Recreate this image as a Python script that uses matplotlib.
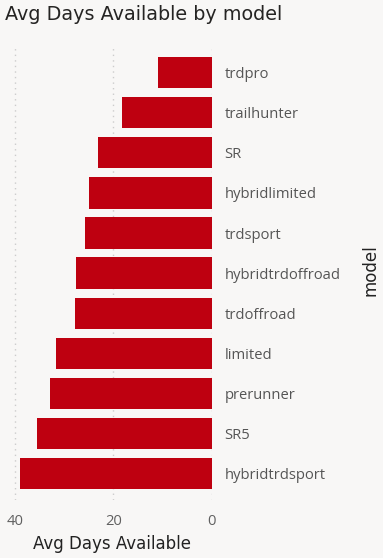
import matplotlib.pyplot as plt

# datos del grafico (de arriba hacia abajo)
modelos = ['trdpro', 'trailhunter', 'SR', 'hybridlimited', 'trdsport',
           'hybridtrdoffroad', 'trdoffroad', 'limited', 'prerunner', 'SR5',
           'hybridtrdsport']
dias = [10.9, 18.2, 23.2, 25.0, 25.7, 27.6, 27.8, 31.6, 32.9, 35.5, 38.9]
ticks_x = [40, 20, 0]

fondo = '#f8f7f6'
rojo = '#be0010'

fig = plt.figure(figsize=(3.83, 5.58), dpi=100, facecolor=fondo)
ax = fig.add_axes([10/383, 1 - 500/558, 202/383, 455/558], facecolor=fondo)

pos = list(range(len(modelos)))
ax.barh(pos, dias, height=0.78, color=rojo, zorder=3)
ax.set_xlim(41, 0)
ax.set_ylim(len(modelos) - 0.34, -0.69)

ax.set_yticks(pos)
ax.set_yticklabels(modelos, fontsize=10.6, color='#555555', family='Open Sans')
ax.yaxis.tick_right()
ax.yaxis.set_label_position('right')
ax.set_ylabel('model', fontsize=12, color='#222222')
ax.yaxis.set_label_coords(1.74, 0.505)

ax.set_xticks(ticks_x)
ax.set_xticklabels([str(t) for t in ticks_x], fontsize=10.6, color='#606060',
                   family='Open Sans')
ax.set_xlabel('Avg Days Available', fontsize=12, color='#222222')
ax.xaxis.set_label_coords(0.505, -0.078)

ax.tick_params(axis='y', length=0, pad=9)
ax.tick_params(axis='x', length=0, pad=10)
ax.grid(axis='x', linestyle=(0, (1, 3)), color='#cccccc', linewidth=1, zorder=0)
for s in ax.spines.values():
    s.set_visible(False)

fig.text(5/383, 1 - 15/558, 'Avg Days Available by model', fontsize=13.8,
         color='#252423', va='center', ha='left')

fig.savefig('out.png', dpi=100, facecolor=fondo)
